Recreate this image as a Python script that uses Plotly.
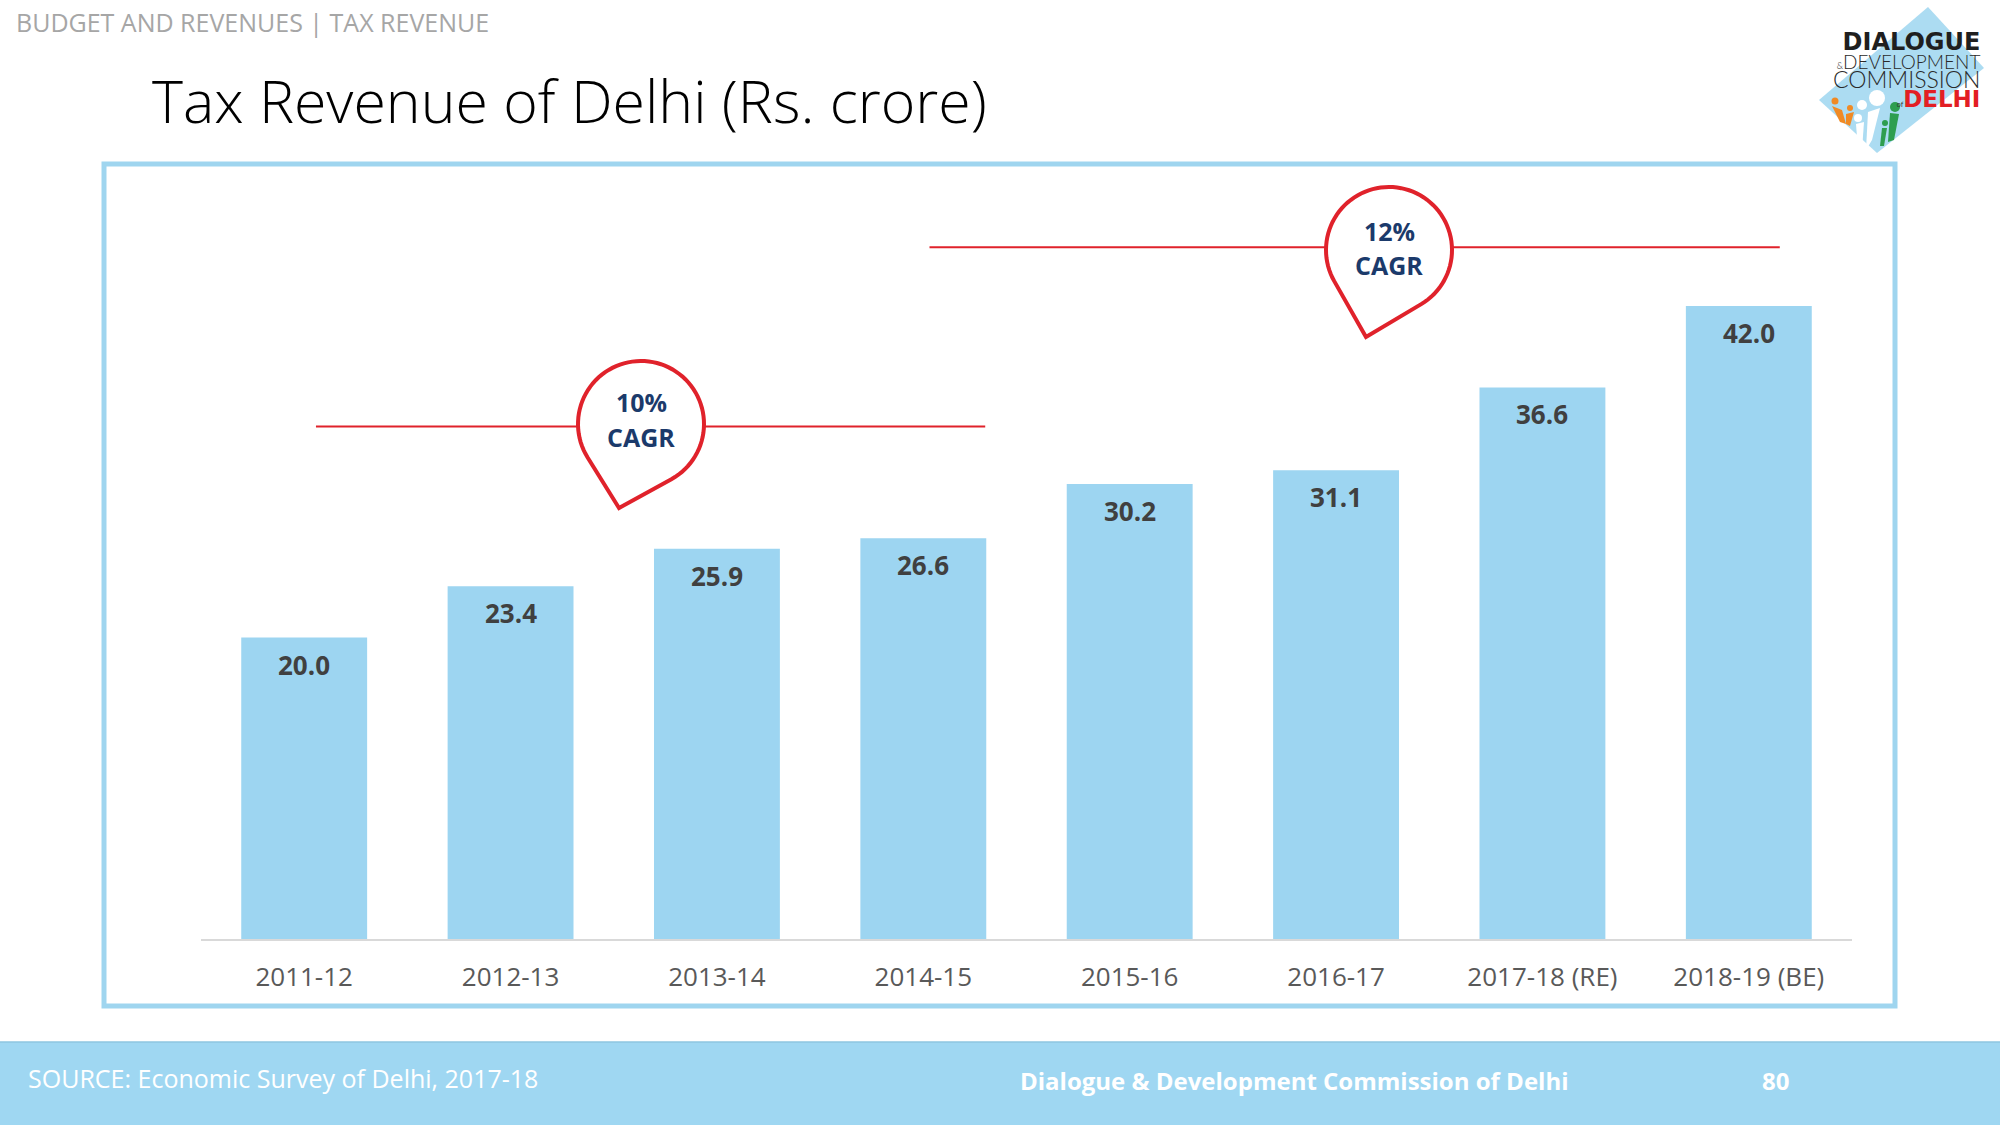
import math
import plotly.graph_objects as go

# ---- data ----
categories = ["2011-12", "2012-13", "2013-14", "2014-15", "2015-16", "2016-17", "2017-18 (RE)", "2018-19 (BE)"]
values = [20.0, 23.4, 25.9, 26.6, 30.2, 31.1, 36.6, 42.0]
value_labels = [f"{v:.1f}" for v in values]
cagr_pct = ["10%", "12%"]

W, H = 2000, 1125
BAR = "#9dd5f1"
RED = "#e0222b"
NAVY = "#1b3a6b"

def px(x):
    return x / W

def py(y):
    return 1 - y / H

fig = go.Figure()
fig.add_trace(go.Bar(
    x=categories, y=values, width=0.61,
    marker=dict(color=BAR, line=dict(width=0)),
    hoverinfo="skip",
))

shapes = []
annotations = []

# value labels inside bar tops
for c, v, lab in zip(categories, values, value_labels):
    annotations.append(dict(xref="x", yref="y", x=c, y=v, text=lab, showarrow=False,
                            xanchor="center", yanchor="middle", yshift=-27,
                            font=dict(family="Open Sans", size=26, color="#404040", weight="bold")))

# outer frame
shapes.append(dict(type="rect", xref="paper", yref="paper",
                   x0=px(104), x1=px(1895), y0=py(164), y1=py(1006),
                   line=dict(color="#9fd5ef", width=5), fillcolor="rgba(0,0,0,0)", layer="below"))

# footer band
shapes.append(dict(type="rect", xref="paper", yref="paper",
                   x0=0, x1=1, y0=0, y1=py(1042),
                   line=dict(width=0), fillcolor="#9fd7f2", layer="below"))
shapes.append(dict(type="line", xref="paper", yref="paper",
                   x0=0, x1=1, y0=py(1042), y1=py(1042),
                   line=dict(color="#8ec6e0", width=1.5), layer="below"))

# CAGR lines (data coords)
cagr_lines = [(0.057, 3.30, 34.0), (3.03, 7.15, 45.9)]
for x0, x1, yv in cagr_lines:
    shapes.append(dict(type="line", xref="x", yref="y", x0=x0, x1=x1, y0=yv, y1=yv,
                       line=dict(color=RED, width=2), layer="above"))

def pin_path(cx, cy, r, tx, ty, n=72):
    d = math.hypot(tx - cx, ty - cy)
    a = math.atan2(ty - cy, tx - cx)
    b = math.acos(r / d)
    start = a + b
    end = a + 2 * math.pi - b
    path = f"M{px(tx):.5f},{py(ty):.5f}"
    for i in range(n + 1):
        t = start + (end - start) * i / n
        path += f" L{px(cx + r * math.cos(t)):.5f},{py(cy + r * math.sin(t)):.5f}"
    return path + " Z"

pins = [(641, 424, 63, 619, 508, -22, 13), (1389, 250, 63, 1366, 337, -19, 15)]
for (cx, cy, r, tx, ty, o1, o2), pct in zip(pins, cagr_pct):
    shapes.append(dict(type="path", xref="paper", yref="paper", path=pin_path(cx, cy, r, tx, ty),
                       fillcolor="white", line=dict(color=RED, width=4), layer="above"))
    annotations.append(dict(xref="paper", yref="paper", x=px(cx), y=py(cy + o1), text=pct,
                            showarrow=False, xanchor="center", yanchor="middle",
                            font=dict(family="Open Sans", size=25, color=NAVY, weight="bold")))
    annotations.append(dict(xref="paper", yref="paper", x=px(cx), y=py(cy + o2), text="CAGR",
                            showarrow=False, xanchor="center", yanchor="middle",
                            font=dict(family="Open Sans", size=25, color=NAVY, weight="bold")))

# header texts
annotations.append(dict(xref="paper", yref="paper", x=px(14), y=py(22), text="BUDGET AND REVENUES | TAX REVENUE",
                        showarrow=False, xanchor="left", yanchor="middle",
                        font=dict(family="Open Sans", size=25, color="#a6a6a6")))
annotations.append(dict(xref="paper", yref="paper", x=px(150), y=py(100), text="Tax Revenue of Delhi (Rs. crore)",
                        showarrow=False, xanchor="left", yanchor="middle",
                        font=dict(family="Open Sans", size=59, color="#000000", weight=300)))

# footer texts
annotations.append(dict(xref="paper", yref="paper", x=px(26), y=py(1078), text="SOURCE: Economic Survey of Delhi, 2017-18",
                        showarrow=False, xanchor="left", yanchor="middle",
                        font=dict(family="Open Sans", size=25, color="white")))
annotations.append(dict(xref="paper", yref="paper", x=px(1294), y=py(1080), text="Dialogue &amp; Development Commission of Delhi",
                        showarrow=False, xanchor="center", yanchor="middle",
                        font=dict(family="Open Sans", size=24, color="white", weight="bold")))
annotations.append(dict(xref="paper", yref="paper", x=px(1775), y=py(1080), text="80",
                        showarrow=False, xanchor="center", yanchor="middle",
                        font=dict(family="Open Sans", size=24, color="white", weight="bold")))

# logo
diamond_pts = [(1928, 7), (1984, 68), (1877, 153), (1819, 100)]
dpath = "M" + " L".join(f"{px(x):.5f},{py(y):.5f}" for x, y in diamond_pts) + " Z"
shapes.append(dict(type="path", xref="paper", yref="paper", path=dpath,
                   fillcolor="#acdcf2", line=dict(width=0), layer="below"))
for (cx, cy, rr, col) in [(1835, 101, 3.5, "#f08a24"), (1850, 108, 3, "#f08a24"),
                          (1862, 105, 5, "white"), (1877, 98, 8, "white"), (1858, 118, 4, "white"),
                          (1895, 107, 5, "#2e9e4f"), (1885, 123, 3, "#2e9e4f")]:
    shapes.append(dict(type="circle", xref="paper", yref="paper",
                       x0=px(cx - rr), x1=px(cx + rr), y0=py(cy + rr), y1=py(cy - rr),
                       fillcolor=col, line=dict(width=0), layer="above"))
for (pts, col) in [([(1832, 106), (1842, 110), (1846, 124), (1840, 122)], "#f08a24"),
                   ([(1846, 114), (1854, 112), (1850, 126), (1846, 124)], "#f08a24"),
                   ([(1868, 112), (1880, 108), (1872, 140), (1866, 150)], "white"),
                   ([(1856, 124), (1864, 122), (1862, 150), (1858, 150)], "white"),
                   ([(1890, 113), (1899, 114), (1894, 140), (1888, 142)], "#2e9e4f"),
                   ([(1882, 128), (1887, 128), (1884, 146), (1880, 146)], "#2e9e4f")]:
    p = "M" + " L".join(f"{px(x):.5f},{py(y):.5f}" for x, y in pts) + " Z"
    shapes.append(dict(type="path", xref="paper", yref="paper", path=p,
                       fillcolor=col, line=dict(width=0), layer="above"))

logo_text = ("<span style='font-family:DejaVu Sans;font-weight:bold;font-size:24px;color:#1f1f1f'>DIALOGUE</span><br>"
             "<span style='font-family:Lato;font-weight:300;font-size:19px;color:#2a2a2a'><span style='font-size:9px'>&amp;</span>DEVELOPMENT</span><br>"
             "<span style='font-family:Lato;font-weight:300;font-size:23px;color:#2a2a2a'>COMMISSION</span><br>"
             "<span style='font-family:DejaVu Sans;font-size:7px;color:#333'>of</span>"
             "<span style='font-family:DejaVu Sans;font-weight:bold;font-size:23px;color:#e31e24'>DELHI</span>")
annotations.append(dict(xref="paper", yref="paper", x=px(1982), y=py(70), text=logo_text,
                        showarrow=False, xanchor="right", yanchor="middle", align="right",
                        font=dict(family="DejaVu Sans", size=14.6, color="#222222")))

fig.update_layout(
    width=W, height=H, autosize=False,
    margin=dict(l=0, r=0, t=0, b=0, pad=0),
    paper_bgcolor="white", plot_bgcolor="white",
    showlegend=False, bargap=0.39,
    shapes=shapes, annotations=annotations,
    xaxis=dict(domain=[201 / W, 1852 / W], type="category", range=[-0.5, 7.5],
               showline=True, linecolor="#d9d9d9", linewidth=2, showgrid=False,
               ticks="", ticklabelstandoff=14,
               tickfont=dict(family="Open Sans", size=26, color="#595959"), fixedrange=True),
    yaxis=dict(domain=[1 - 939 / H, 1 - 185.5 / H], range=[0, 50], visible=False,
               showgrid=False, zeroline=False, fixedrange=True),
)

fig.write_html("out.html", config={"displayModeBar": False},
               post_script="document.body.style.margin='0';document.body.style.overflow='hidden';")
